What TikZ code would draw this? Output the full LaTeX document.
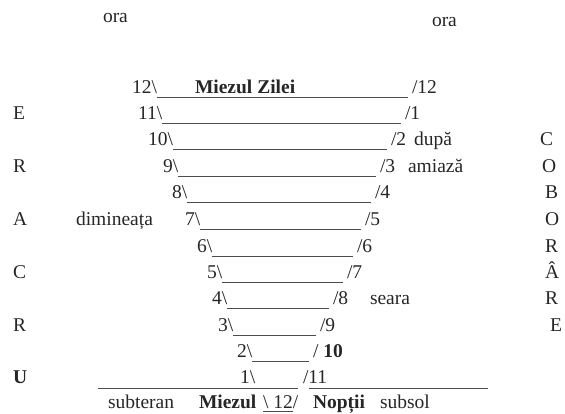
\documentclass[tikz,border=0pt]{standalone}
\usepackage{fontspec}
\setmainfont{Liberation Serif}
\usetikzlibrary{calc}
\begin{document}
\begin{tikzpicture}[x=1pt,y=-1pt,
  every node/.style={inner sep=0pt, outer sep=0pt, anchor=base west,
    font=\fontsize{19.5}{23}\selectfont, text=black!85},
  rule/.style={draw=black!70, line width=0.9pt}]
\useasboundingbox (0,0) rectangle (565,413);
% headings
\node (o1) at (103,22) {ora};
\node (o2) at (432,26) {ora};
% rows: left labels
\node (l12) at (132,93)  {12\textbackslash};
\node (l11) at (138,119) {11\textbackslash};
\node (l10) at (148,145) {10\textbackslash};
\node (l9)  at (163,172) {9\textbackslash};
\node (l8)  at (172,198) {8\textbackslash};
\node (l7)  at (185,225) {7\textbackslash};
\node (l6)  at (197,252) {6\textbackslash};
\node (l5)  at (207,278) {5\textbackslash};
\node (l4)  at (212,304) {4\textbackslash};
\node (l3)  at (218,331) {3\textbackslash};
\node (l2)  at (237,357) {2\textbackslash};
\node (l1)  at (240,383) {1\textbackslash};
% rows: right labels
\node (r12) at (412,93)  {/12};
\node (r11) at (405,119) {/1};
\node (r10) at (391,145) {/2};
\node (r9)  at (380,172) {/3};
\node (r8)  at (375,198) {/4};
\node (r7)  at (365,225) {/5};
\node (r6)  at (357,252) {/6};
\node (r5)  at (347,278) {/7};
\node (r4)  at (333,304) {/8};
\node (r3)  at (320,331) {/9};
\node (r2)  at (313,357) {/ \textbf{10}};
\node (r1)  at (303,383) {/11};
% lines
\foreach \n in {12,11,10,9,8,7,6,5,4,3,2}
  \draw[rule] ([yshift=-4pt]l\n.base east) -- ([xshift=-4pt,yshift=-4pt]r\n.base west);
\coordinate (s1) at (98,388);
\coordinate (e1) at (488,388);
\draw[rule] (s1) -- ([xshift=-5pt]r1.base west |- s1);
\draw[rule] ([xshift=6pt]r1.base west |- s1) -- (e1);
% inner texts
\node (mz) at (195,93) {\textbf{Miezul Zilei}};
\node (dupa) at (414,145) {după};
\node (amiaza) at (408,172) {amiază};
\node (dim) at (76,225) {dimineața};
\node (seara) at (370,304) {seara};
% bottom line
\node (bs) at (108,408) {subteran};
\node (bm) at (199,408) {\textbf{Miezul}};
\node (bt) at (263,408) {\textbackslash\ 12};
\node (bsl) at (bt.base east) {/};
\draw[rule] ([yshift=-3pt]bt.base west) -- ([yshift=-3pt]bt.base east);
\node (bn) at (313,408) {\textbf{Nopții}};
\node (bb) at (380,408) {subsol};
% left column
\node (u1) at (13,119) {E};
\node (u2) at (13,172) {R};
\node (u3) at (13,225) {A};
\node (u4) at (13,278) {C};
\node (u5) at (13,331) {R};
\node (u6) at (13,383) {\textbf{U}};
% right column
\node (d1) at (540,145) {C};
\node (d2) at (542,172) {O};
\node (d3) at (545,198) {B};
\node (d4) at (545,225) {O};
\node (d5) at (545,252) {R};
\node (d6) at (545,278) {Â};
\node (d7) at (545,304) {R};
\node (d8) at (550,331) {E};
\end{tikzpicture}
\end{document}
